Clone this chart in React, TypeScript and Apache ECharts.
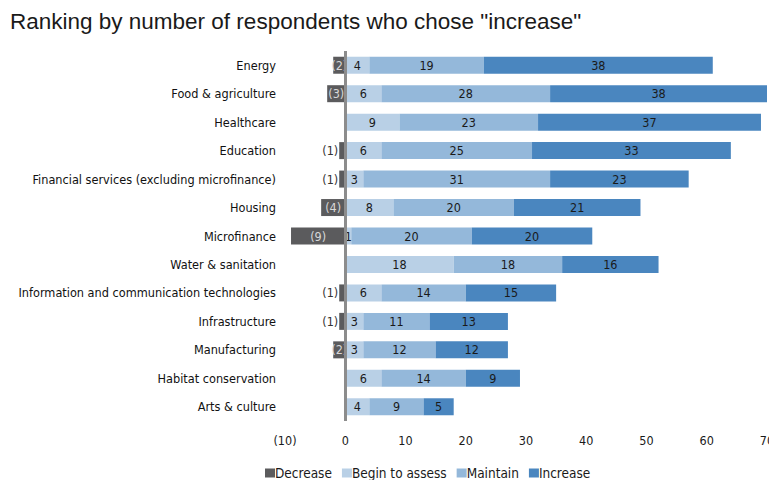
import React, { useEffect, useRef } from "react";
import * as echarts from "echarts";

const categories = [
  "Energy",
  "Food & agriculture",
  "Healthcare",
  "Education",
  "Financial services (excluding microfinance)",
  "Housing",
  "Microfinance",
  "Water & sanitation",
  "Information and communication technologies",
  "Infrastructure",
  "Manufacturing",
  "Habitat conservation",
  "Arts & culture",
];
const decrease = [-2, -3, 0, -1, -1, -4, -9, 0, -1, -1, -2, 0, 0];
const beginToAssess = [4, 6, 9, 6, 3, 8, 1, 18, 6, 3, 3, 6, 4];
const maintain = [19, 28, 23, 25, 31, 20, 20, 18, 14, 11, 12, 14, 9];
const increase = [38, 38, 37, 33, 23, 21, 20, 16, 15, 13, 12, 9, 5];
const seriesNames = ["Decrease", "Begin to assess", "Maintain", "Increase"];
const xTicks = { min: -10, max: 70, interval: 10 };

const FONT = "'Liberation Sans Narrow', 'DejaVu Sans Condensed', 'Arial Narrow', sans-serif";
const COLORS = ["#5b5b5d", "#b9d0e6", "#94b8da", "#4a86bf"];

export default function App() {
  const ref = useRef<HTMLDivElement>(null);
  useEffect(() => {
    if (!ref.current) return;
    const chart = echarts.init(ref.current, null, { renderer: "svg" });
    const fmtNum = (v: number) => (v < 0 ? `(${Math.abs(v)})` : `${v}`);
    const decData = decrease.map((v) => {
      if (v === 0) return { value: 0, label: { show: false } };
      const small = Math.abs(v) <= 1;
      return {
        value: v,
        label: {
          show: true,
          position: small ? "left" : "inside",
          distance: 1,
          color: small ? "#333" : "#d8d8d8",
        },
      };
    });
    const posLabel = {
      show: true,
      position: "inside",
      color: "#1a1a1a",
      fontFamily: FONT,
      fontSize: 12.5,
      formatter: (p: any) => (p.value ? String(p.value) : ""),
    };
    const mk = (name: string, data: any[], color: string, extra: any = {}) => ({
      name,
      type: "bar",
      stack: "total",
      barWidth: 17,
      data,
      itemStyle: { color },
      label: posLabel,
      ...extra,
    });
    chart.setOption({
      animation: false,
      textStyle: { fontFamily: FONT },
      title: {
        text: 'Ranking by number of respondents who chose "increase"',
        left: 5,
        top: 5,
        textStyle: {
          fontFamily: "'Liberation Sans', Arial, sans-serif",
          fontSize: 22.5,
          fontWeight: "normal",
          color: "#1a1a1a",
        },
      },
      legend: {
        data: seriesNames,
        left: 265,
        top: 466,
        padding: 0,
        itemWidth: 10,
        itemHeight: 9,
        itemGap: 10,
        icon: "rect",
        textStyle: { fontFamily: FONT, fontSize: 13.5, color: "#1a1a1a", padding: [0, 0, 0, -5] },
      },
      grid: {
        left: 285,
        right: 2,
        top: 51,
        bottom: 59,
        containLabel: false,
        outerBoundsMode: "none",
      },
      xAxis: {
        type: "value",
        min: xTicks.min,
        max: xTicks.max,
        interval: xTicks.interval,
        axisLine: { show: false },
        axisTick: { show: false },
        splitLine: { show: false },
        axisLabel: {
          formatter: fmtNum,
          fontFamily: FONT,
          fontSize: 12.5,
          color: "#1a1a1a",
          margin: 13,
          hideOverlap: false,
        },
      },
      yAxis: {
        type: "category",
        data: categories,
        inverse: true,
        axisLine: { show: false },
        axisTick: { show: false },
        axisLabel: { fontFamily: FONT, fontSize: 12.6, color: "#111", margin: 9 },
      },
      series: [
        mk("Decrease", decData, COLORS[0], {
          label: {
            show: true,
            fontFamily: FONT,
            fontSize: 12.5,
            formatter: (p: any) => fmtNum(p.value),
          },
          markLine: {
            silent: true,
            symbol: "none",
            label: { show: false },
            lineStyle: { color: "#8c8c8c", width: 3, type: "solid" },
            data: [{ xAxis: 0 }],
          },
        }),
        mk("Begin to assess", beginToAssess, COLORS[1]),
        mk("Maintain", maintain, COLORS[2]),
        mk("Increase", increase, COLORS[3]),
      ],
    });
    return () => chart.dispose();
  }, []);
  return <div ref={ref} style={{ width: 769, height: 480, position: "absolute", left: 0, top: 0 }} />;
}
